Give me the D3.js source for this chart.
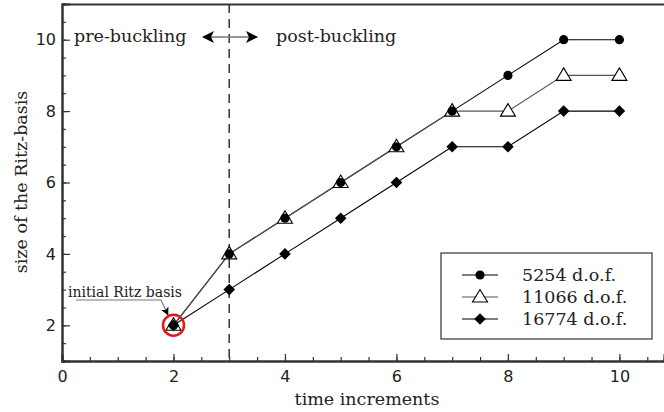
<!doctype html>
<html>
  <head>
    <meta charset="utf-8">
    <script src="https://cdnjs.cloudflare.com/ajax/libs/d3/7.8.5/d3.min.js"></script>
    <style>
      body { margin: 0; background: #fff; }
      svg { display: block; }
      .serif { font-family: "DejaVu Serif", serif; fill: #222; }
      .tick text { font-family: "DejaVu Sans", sans-serif; font-size: 16px; fill: #222; }
    </style>
  </head>
  <body>
    <svg id="chart" width="664" height="412"></svg>
    <script>
      // data
      var steps = [2, 3, 4, 5, 6, 7, 8, 9, 10];
      var dof5254 = [2, 4, 5, 6, 7, 8, 9, 10, 10];
      var dof11066 = [2, 4, 5, 6, 7, 8, 8, 9, 9];
      var dof16774 = [2, 3, 4, 5, 6, 7, 7, 8, 8];
      var seriesNames = ["5254 d.o.f.", "11066 d.o.f.", "16774 d.o.f."];
      var xTicks = [0, 2, 4, 6, 8, 10];
      var yTicks = [2, 4, 6, 8, 10];
      var bucklingStep = 3;

      var svg = d3.select("#chart");
      var x = d3.scaleLinear().domain([0, 10.8]).range([62, 664]);
      var y = d3.scaleLinear().domain([1, 11]).range([361, 4]);

      // minor ticks first, then major ones with labels
      svg.append("g").attr("transform", "translate(0,361)")
        .call(d3.axisBottom(x).tickValues(d3.range(0, 10.8, 0.5)).tickSize(-4).tickFormat(""));
      svg.append("g").attr("transform", "translate(62,0)")
        .call(d3.axisLeft(y).tickValues(d3.range(1, 11.01, 0.5)).tickSize(-4).tickFormat(""));
      svg.append("g").attr("transform", "translate(0,361)")
        .call(d3.axisBottom(x).tickValues(xTicks).tickSize(-7).tickPadding(10).tickFormat(d3.format("d")));
      svg.append("g").attr("transform", "translate(62,0)")
        .call(d3.axisLeft(y).tickValues(yTicks).tickSize(-8).tickPadding(6).tickFormat(d3.format("d")));
      svg.append("g").attr("transform", "translate(0,4)")
        .call(d3.axisTop(x).tickValues([]).tickSizeOuter(0));

      svg.selectAll(".domain").attr("stroke", "#333").attr("stroke-width", 2);
      svg.selectAll(".tick line").attr("stroke", "#333").attr("stroke-width", 1.2);

      // axis titles
      svg.append("text").attr("class", "serif").attr("x", 367).attr("y", 405)
        .attr("text-anchor", "middle").style("font-size", "17.5px").text("time increments");
      svg.append("text").attr("class", "serif")
        .attr("transform", "translate(27,182) rotate(-90)")
        .attr("text-anchor", "middle").style("font-size", "17.5px").text("size of the Ritz-basis");

      // buckling line
      svg.append("line")
        .attr("x1", x(bucklingStep)).attr("x2", x(bucklingStep))
        .attr("y1", 4).attr("y2", 361)
        .attr("stroke", "#333").attr("stroke-width", 1.5).attr("stroke-dasharray", "9,6");

      var defs = svg.append("defs");
      defs.append("marker").attr("id", "head")
        .attr("viewBox", "0 0 12 12").attr("refX", 11).attr("refY", 6)
        .attr("markerWidth", 12).attr("markerHeight", 12).attr("markerUnits", "userSpaceOnUse")
        .attr("orient", "auto-start-reverse")
        .append("path").attr("d", "M0,0 L12,6 L0,12 L3,6 Z").attr("fill", "#000");
      defs.append("marker").attr("id", "small")
        .attr("viewBox", "0 0 8 8").attr("refX", 7.5).attr("refY", 4)
        .attr("markerWidth", 8).attr("markerHeight", 8).attr("markerUnits", "userSpaceOnUse")
        .attr("orient", "auto")
        .append("path").attr("d", "M0,0 L8,4 L0,8 L2,4 Z").attr("fill", "#000");

      svg.append("line").attr("x1", 203).attr("x2", 257).attr("y1", 37).attr("y2", 37)
        .attr("stroke", "#777").attr("stroke-width", 1.5)
        .attr("marker-start", "url(#head)").attr("marker-end", "url(#head)");

      svg.append("text").attr("class", "serif").attr("x", 74).attr("y", 42)
        .style("font-size", "17.5px").text("pre-buckling");
      svg.append("text").attr("class", "serif").attr("x", 276).attr("y", 42)
        .style("font-size", "17.5px").text("post-buckling");

      // series
      var series = [
        { name: seriesNames[0], values: dof5254, color: "#000", shape: "circle" },
        { name: seriesNames[1], values: dof11066, color: "#555", shape: "triangle" },
        { name: seriesNames[2], values: dof16774, color: "#000", shape: "diamond" }
      ];

      var line = d3.line().x(function(d) { return x(d[0]); }).y(function(d) { return y(d[1]); });

      series.forEach(function(s) {
        svg.append("path")
          .datum(steps.map(function(t, i) { return [t, s.values[i]]; }))
          .attr("fill", "none").attr("stroke", s.color).attr("stroke-width", 1.1)
          .attr("d", line);
      });

      function drawMarker(g, shape) {
        if (shape === "circle") {
          g.append("circle").attr("r", 4.6).attr("fill", "#000");
        } else if (shape === "triangle") {
          g.append("path").attr("d", "M0,-7.5 L7.5,5 L-7.5,5 Z")
            .attr("fill", "#fff").attr("stroke", "#000").attr("stroke-width", 1.1);
        } else {
          g.append("path").attr("d", "M0,-5.8 L5.8,0 L0,5.8 L-5.8,0 Z").attr("fill", "#000");
        }
      }

      // triangles below circles, diamonds on top
      [series[1], series[0], series[2]].forEach(function(s) {
        steps.forEach(function(t, i) {
          var g = svg.append("g").attr("transform", "translate(" + x(t) + "," + y(s.values[i]) + ")");
          drawMarker(g, s.shape);
        });
      });

      // initial basis annotation
      svg.append("circle").attr("cx", x(2)).attr("cy", y(2)).attr("r", 10.5)
        .attr("fill", "none").attr("stroke", "#e8141b").attr("stroke-width", 2.5);
      svg.append("path").attr("d", "M76,300 L161,300 L168,315")
        .attr("fill", "none").attr("stroke", "#777").attr("stroke-width", 1.2)
        .attr("marker-end", "url(#small)");
      svg.append("text").attr("class", "serif").attr("x", 68).attr("y", 297)
        .style("font-size", "14px").text("initial Ritz basis");

      // legend
      var legend = svg.append("g");
      legend.append("rect").attr("x", 441).attr("y", 253).attr("width", 211).attr("height", 86)
        .attr("fill", "#fff").attr("stroke", "#444").attr("stroke-width", 1.3);
      series.forEach(function(s, i) {
        var ly = 275 + i * 22;
        legend.append("line").attr("x1", 462).attr("x2", 498).attr("y1", ly).attr("y2", ly)
          .attr("stroke", s.color).attr("stroke-width", 1.2);
        drawMarker(legend.append("g").attr("transform", "translate(480," + ly + ")"), s.shape);
        legend.append("text").attr("class", "serif").attr("x", 522).attr("y", ly + 6)
          .style("font-size", "17.5px").text(s.name);
      });
    </script>
  </body>
</html>
